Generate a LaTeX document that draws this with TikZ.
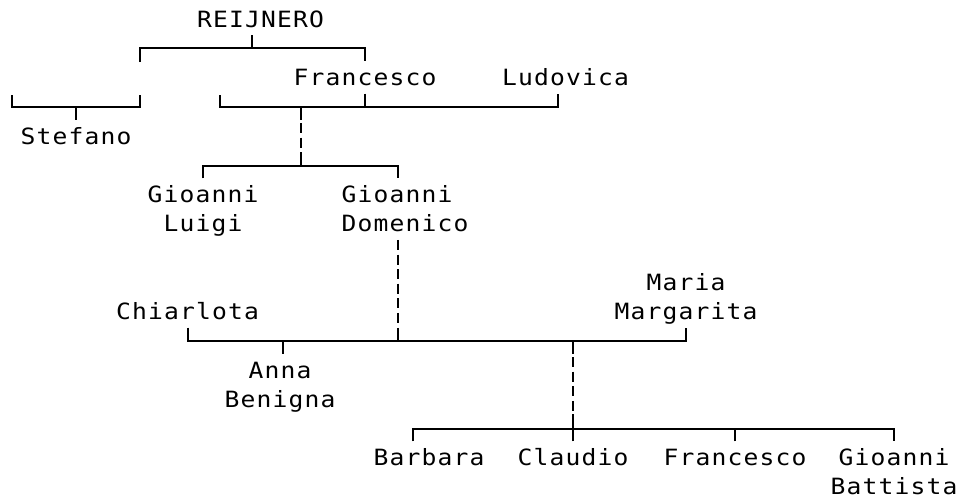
\documentclass[tikz,border=0pt]{standalone}
\usepackage{fontspec}
\newfontfamily\treefont[FakeStretch=1.1, LetterSpace=5.2]{DejaVu Sans Mono}
\usepackage{tikz}

\begin{document}
\begin{tikzpicture}[
  x=1pt, y=-1pt,
  person/.style={font=\treefont\fontsize{22.4}{29.2}\selectfont, inner sep=0pt, text height=24pt, text depth=8pt, align=center, anchor=base},
  couple/.style={person, text height=53.2pt},
  kin/.style={line width=2pt},
  descent/.style={line width=2pt, dash pattern=on 10pt off 4.6pt}
]
  \useasboundingbox (0,0) rectangle (969,499);

  \node[person] (rei) at (260.5, 27) {REIJNERO};
  \node[person] (fra) at (365, 85.5) {Francesco};
  \node[person] (lud) at (565.5, 85.5) {Ludovica};
  \node[person] (ste) at (76, 144) {Stefano};
  \node[couple] (glu) at (203, 231.7) {Gioanni\\Luigi};
  \node[couple, align=left] (gdo) at (405, 231.7) {Gioanni\\Domenico};
  \node[couple] (mma) at (686, 319.7) {Maria\\Margarita};
  \node[person] (chi) at (187.5, 319.5) {Chiarlota};
  \node[couple] (abe) at (280, 407.2) {Anna\\Benigna};
  \node[person] (bar) at (429, 465.5) {Barbara};
  \node[person] (cla) at (573, 465.5) {Claudio};
  \node[person] (frb) at (735, 465.5) {Francesco};
  \node[couple] (gba) at (894, 494.7) {Gioanni\\Battista};

  \coordinate (sonl) at (140, 62);
  \coordinate (stl) at (12, 95);
  \coordinate (str) at (140, 95);
  \coordinate (spl) at (220, 95);
  \coordinate (m1) at (301, 107);
  \coordinate (m3) at (573, 341);

  % REIJNERO
  \draw[kin] ([xshift=-8.5pt]rei.south) -- ++(0,13) coordinate (reib);
  \draw[kin] (sonl) |- (reib) -| (fra.north);
  % Stefano
  \draw[kin] (stl) -- ++(0,12) -| (str);
  \draw[kin] (ste.north) -- ++(0,-13);
  % Francesco & Ludovica
  \draw[kin] (spl) -- ++(0,12) -| ([xshift=-7.5pt]lud.south);
  \draw[kin] (fra.south) -- ++(0,13.5);
  \draw[kin] (m1) -- ++(0,13);
  \draw[descent] ([yshift=-16pt]m1) -- ++(0,25);
  \draw[kin] (glu.north) -- ++(0,-12.5) -| ([xshift=-7pt]gdo.north);
  \draw[kin] ([yshift=-45pt]m1) -- ++(0,14);
  % Gioanni Domenico, Chiarlota & Maria Margarita
  \draw[descent] ([xshift=-7.5pt]gdo.south) -- ++(0,84);
  \draw[kin] (chi.south) -- ++(0,13.5) -| (mma.south);
  \draw[kin] ([xshift=-7.5pt, yshift=-88pt]gdo.south) -- ++(0,13.5);
  \draw[kin] ([xshift=3pt]abe.north) -- ++(0,-13);
  \draw[kin] (m3) -- ++(0,13);
  \draw[descent] ([yshift=-16pt]m3) -- ++(0,55);
  % children
  \draw[kin] ([xshift=-16pt]bar.north) -- ++(0,-12.5) -| (gba.north);
  \draw[kin] (cla.north) -- ++(0,-27);
  \draw[kin] (frb.north) -- ++(0,-12.5);
\end{tikzpicture}
\end{document}
